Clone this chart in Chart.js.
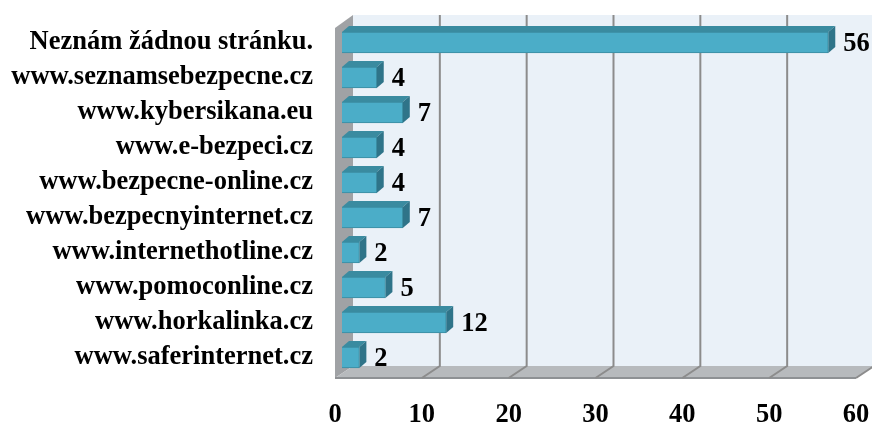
<!DOCTYPE html>
<html>
<head>
<meta charset="utf-8">
<script src="https://cdn.jsdelivr.net/npm/chart.js"></script>
<style>
  body { margin: 0; background: #ffffff; }
  #wrap { width: 872px; height: 422px; }
</style>
</head>
<body>
<div id="wrap"><canvas id="c" width="872" height="422"></canvas></div>
<script>
// ── data ──
const categories = [
  'Neznám žádnou stránku.',
  'www.seznamsebezpecne.cz',
  'www.kybersikana.eu',
  'www.e-bezpeci.cz',
  'www.bezpecne-online.cz',
  'www.bezpecnyinternet.cz',
  'www.internethotline.cz',
  'www.pomoconline.cz',
  'www.horkalinka.cz',
  'www.saferinternet.cz'
];
const counts = [56, 4, 7, 4, 4, 7, 2, 5, 12, 2];
const xTicks = [0, 10, 20, 30, 40, 50, 60];

const FAMILY = '"Liberation Serif", "Times New Roman", serif';
const FONT = 'bold 26.5px ' + FAMILY;

// 3D look: back wall, side wall, floor and bar depth
const walls = {
  id: 'walls',
  beforeDatasetsDraw(chart) {
    const ctx = chart.ctx;
    const xs = chart.scales.x;
    const back = 11, front = -7;
    const topB = 15, botB = 366, botF = 378, topF = 28;
    const xb = v => xs.getPixelForValue(v) + back;
    const xf = v => xs.getPixelForValue(v) + front;
    ctx.save();
    // back wall
    ctx.fillStyle = '#eaf1f8';
    ctx.fillRect(xb(0), topB, xb(60) - xb(0), botB - topB);
    // left wall
    ctx.fillStyle = '#a0a2a5';
    ctx.beginPath();
    ctx.moveTo(xf(0), topF);
    ctx.lineTo(xb(0), topB);
    ctx.lineTo(xb(0), botB);
    ctx.lineTo(xf(0), botF);
    ctx.closePath();
    ctx.fill();
    // floor
    ctx.fillStyle = '#b7babd';
    ctx.beginPath();
    ctx.moveTo(xb(0), botB);
    ctx.lineTo(xb(60), botB);
    ctx.lineTo(xf(60), botF);
    ctx.lineTo(xf(0), botF);
    ctx.closePath();
    ctx.fill();
    ctx.strokeStyle = '#8e9194';
    ctx.lineWidth = 2;
    ctx.beginPath();
    ctx.moveTo(xf(0), botF);
    ctx.lineTo(xf(60), botF);
    ctx.stroke();
    // grid lines
    ctx.strokeStyle = '#8c8c8c';
    ctx.lineWidth = 2;
    xTicks.forEach(v => {
      if (v === 0) return;
      ctx.beginPath();
      ctx.moveTo(xb(v), topB);
      ctx.lineTo(xb(v), botB);
      ctx.lineTo(xf(v), botF);
      ctx.stroke();
    });
    // bar top and side faces
    const dx = 7, dy = 6;
    chart.getDatasetMeta(0).data.forEach(bar => {
      const t = bar.y - bar.height / 2, b = bar.y + bar.height / 2;
      ctx.fillStyle = '#3a8ba0';
      ctx.beginPath();
      ctx.moveTo(bar.base, t);
      ctx.lineTo(bar.x, t);
      ctx.lineTo(bar.x + dx, t - dy);
      ctx.lineTo(bar.base + dx, t - dy);
      ctx.closePath();
      ctx.fill();
      ctx.fillStyle = '#2f7489';
      ctx.beginPath();
      ctx.moveTo(bar.x, t);
      ctx.lineTo(bar.x + dx, t - dy);
      ctx.lineTo(bar.x + dx, b - dy);
      ctx.lineTo(bar.x, b);
      ctx.closePath();
      ctx.fill();
    });
    ctx.restore();
  },
  afterDatasetsDraw(chart) {
    const ctx = chart.ctx;
    ctx.save();
    ctx.font = FONT;
    ctx.fillStyle = '#000';
    ctx.textAlign = 'left';
    ctx.textBaseline = 'middle';
    chart.getDatasetMeta(0).data.forEach((bar, i) => {
      ctx.fillText(String(counts[i]), bar.x + 15, bar.y + 2);
    });
    ctx.restore();
  }
};

new Chart(document.getElementById('c'), {
  type: 'bar',
  data: {
    labels: categories,
    datasets: [{
      data: counts,
      backgroundColor: '#4badc8',
      borderColor: '#3a8ba0',
      borderWidth: 1,
      barThickness: 21
    }]
  },
  options: {
    indexAxis: 'y',
    responsive: false,
    animation: false,
    layout: { padding: { top: 25, right: 9, left: 0, bottom: 0 } },
    plugins: { legend: { display: false }, tooltip: { enabled: false } },
    scales: {
      x: {
        min: 0, max: 60,
        afterBuildTicks: s => { s.ticks = xTicks.map(v => ({ value: v })); },
        grid: { display: false, drawTicks: false },
        border: { display: false },
        afterFit: s => { s.height = 47; s.paddingLeft = 0; s.paddingRight = 0; },
        ticks: {
          color: '#000',
          font: { family: FAMILY, size: 26.5, weight: 'bold' },
          labelOffset: -7,
          padding: 24
        }
      },
      y: {
        grid: { display: false, drawTicks: false },
        border: { display: false },
        afterFit: s => { s.width = 342; s.paddingTop = 0; s.paddingBottom = 0; },
        ticks: {
          color: '#000',
          font: { family: FAMILY, size: 26.5, weight: 'bold' },
          padding: 29
        }
      }
    }
  },
  plugins: [walls]
});
</script>
</body>
</html>
